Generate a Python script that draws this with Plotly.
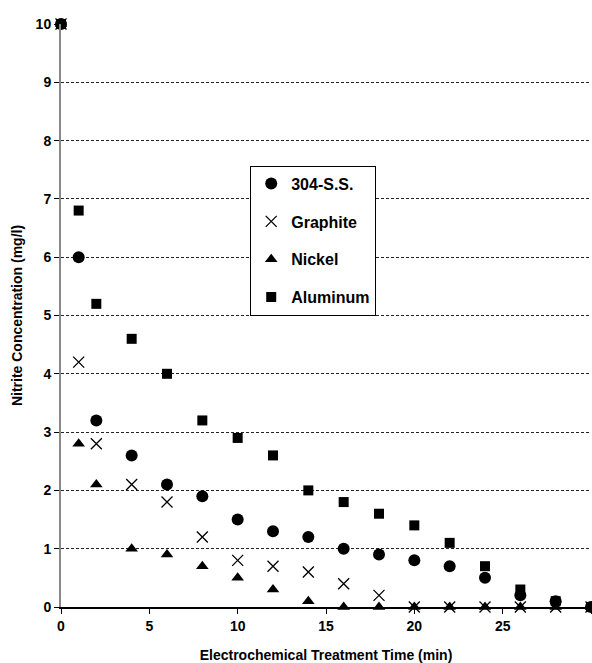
import plotly.graph_objects as go

time_min = [0, 1, 2, 4, 6, 8, 10, 12, 14, 16, 18, 20, 22, 24, 26, 28, 30]
ss304 = [10, 6.0, 3.2, 2.6, 2.1, 1.9, 1.5, 1.3, 1.2, 1.0, 0.9, 0.8, 0.7, 0.5, 0.2, 0.1, 0.0]
graphite = [10, 4.2, 2.8, 2.1, 1.8, 1.2, 0.8, 0.7, 0.6, 0.4, 0.2, 0.0, 0.0, 0.0, 0.0, 0.0, 0.0]
nickel = [10, 2.8, 2.1, 1.0, 0.9, 0.7, 0.5, 0.3, 0.1, 0.0, 0.0, 0.0, 0.0, 0.0, 0.0, 0.0, 0.0]
aluminum = [10, 6.8, 5.2, 4.6, 4.0, 3.2, 2.9, 2.6, 2.0, 1.8, 1.6, 1.4, 1.1, 0.7, 0.3, 0.1, 0.0]

FONT = "Liberation Sans, Arial, sans-serif"

fig = go.Figure()
fig.add_trace(go.Scatter(x=time_min, y=aluminum, mode="markers", name="<b>Aluminum</b>",
                         marker=dict(symbol="square", size=10, color="black"),
                         legendrank=4, legendgroup="d", cliponaxis=False))
fig.add_trace(go.Scatter(x=time_min, y=ss304, mode="markers", name="<b>304-S.S.</b>",
                         marker=dict(symbol="circle", size=12, color="black"),
                         legendrank=1, legendgroup="a", cliponaxis=False))
fig.add_trace(go.Scatter(x=time_min, y=nickel, mode="markers", name="<b>Nickel</b>",
                         marker=dict(symbol="triangle-up", size=11, color="black"),
                         legendrank=3, legendgroup="c", cliponaxis=False))
fig.add_trace(go.Scatter(x=time_min, y=graphite, mode="markers", name="<b>Graphite</b>",
                         marker=dict(symbol="x-thin", size=11, color="black",
                                     line=dict(color="black", width=1.3)),
                         legendrank=2, legendgroup="b", cliponaxis=False))

fig.update_layout(
    width=592, height=663,
    margin=dict(l=61, r=1, t=24, b=56),
    plot_bgcolor="white", paper_bgcolor="white",
    font=dict(family=FONT, size=14, color="black"),
    showlegend=True,
    legend=dict(x=0.357, y=0.757, xanchor="left", yanchor="top",
                bordercolor="black", borderwidth=1, bgcolor="white",
                font=dict(family=FONT, size=16, color="black"),
                traceorder="grouped", tracegroupgap=14, itemwidth=30),
)
fig.update_xaxes(
    range=[0, 30], tickvals=[0, 5, 10, 15, 20, 25, 30],
    ticktext=["<b>0</b>", "<b>5</b>", "<b>10</b>", "<b>15</b>", "<b>20</b>", "<b>25</b>", "<b>30</b>"],
    showgrid=False, zeroline=False, automargin=False,
    showline=True, linecolor="black", linewidth=1.5,
    ticks="outside", ticklen=5, tickcolor="black",
    title=dict(text="<b>Electrochemical Treatment Time (min)</b>", font=dict(size=14), standoff=18),
)
fig.update_yaxes(
    range=[0, 10], tickvals=list(range(0, 11)),
    ticktext=[f"<b>{v}</b>" for v in range(0, 11)],
    showgrid=True, gridcolor="#222", gridwidth=1, griddash="3px,2px",
    zeroline=False, automargin=False,
    showline=True, linecolor="#888", linewidth=2,
    ticks="outside", ticklen=5, tickcolor="black",
    title=dict(text="<b>Nitrite Concentration (mg/l)</b>", font=dict(size=14), standoff=10),
)

fig.write_html("out.html", config={"displayModeBar": False},
               post_script="document.body.style.margin='0';document.body.style.overflow='hidden';")
